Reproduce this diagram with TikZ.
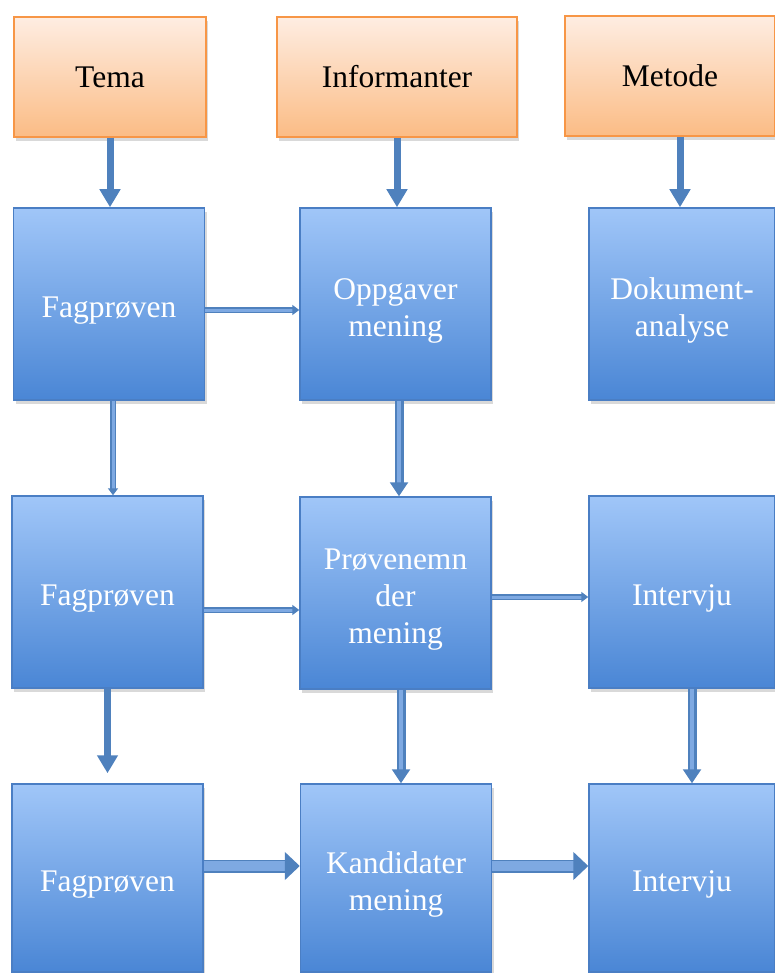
\documentclass[tikz,border=0pt]{standalone}
\usepackage{fontspec}
\setmainfont{Liberation Serif}
\usetikzlibrary{arrows.meta, shadows}
\definecolor{orangeedge}{HTML}{F79646}
\definecolor{orangetop} {HTML}{FEEDE2}
\definecolor{orangebot} {HTML}{FBBC85}
\definecolor{blueedge}  {HTML}{4A7EC4}
\definecolor{bluetop}   {HTML}{A0C6F8}
\definecolor{bluebot}   {HTML}{4A86D5}
\definecolor{arrowblue} {HTML}{4F81BD}
\definecolor{arrowlight}{HTML}{7EA9E2}
% strut on a first line: drops the text a little below the middle, as in the original
\newcommand{\dropline}{\rule{0pt}{34pt}}

\begin{document}
\begin{tikzpicture}[x=1pt, y=-1pt,
  % pixel grid of the original: y runs downwards
  topbox/.style={draw=orangeedge, line width=1.5pt, top color=orangetop, bottom color=orangebot,
                 minimum height=120pt, inner sep=0pt, text=black,
                 font=\fontsize{31.5}{37}\selectfont,
                 drop shadow={shadow xshift=2pt, shadow yshift=-4pt, opacity=0.3}},
  stepbox/.style={draw=blueedge, line width=1.5pt, top color=bluetop, bottom color=bluebot,
                  minimum width=191pt, minimum height=192pt, inner sep=0pt, text=white,
                  align=center, font=\fontsize{31.5}{37}\selectfont,
                  drop shadow={shadow xshift=2pt, shadow yshift=-4pt, opacity=0.3}},
  solidarrow/.style={-{Triangle[width=20pt, length=18pt]}, line width=7pt, draw=arrowblue},
  thinarrow/.style={-{Triangle[width=10pt, length=7pt]}, draw=arrowblue, double=arrowlight,
                    double distance=3pt, line width=1.5pt},
  medarrow/.style={-{Triangle[width=18pt, length=14pt]}, draw=arrowblue, double=arrowlight,
                   double distance=4pt, line width=2.5pt},
  bigarrow/.style={-{Triangle[width=28pt, length=15pt]}, draw=arrowblue, double=arrowlight,
                   double distance=10pt, line width=1.5pt}
]
\useasboundingbox (0,0) rectangle (774,973);

% --- Top row ---
\node[topbox, minimum width=192pt] (tema)    at (110,77) {Tema};
\node[topbox, minimum width=240pt] (info)    at (397,77) {Informanter};
\node[topbox, minimum width=210pt] (metode)  at (670,76) {Metode};

% --- Second row ---
\node[stepbox] (fag1) at (109,304)   {\dropline Fagprøven};
\node[stepbox] (opp)  at (395.5,304) {\dropline Oppgaver\\mening};
\node[stepbox, minimum width=186pt] (dok) at (682,304) {\dropline Dokument-\\analyse};

% --- Third row ---
\node[stepbox] (fag2)  at (107.5,592) {\dropline Fagprøven};
\node[stepbox] (prov)  at (395.5,593) {\dropline Prøvenemn\\der\\mening};
\node[stepbox, minimum width=186pt] (int1) at (682,592) {\dropline Intervju};

% --- Bottom row ---
\node[stepbox, minimum height=188pt] (fag3) at (107.5,878) {\dropline Fagprøven};
\node[stepbox, minimum height=188pt] (kand) at (396,878)   {\dropline Kandidater\\mening};
\node[stepbox, minimum height=188pt, minimum width=186pt] (int2) at (682,878) {\dropline Intervju};

% --- Down from the top row ---
\draw[solidarrow] (tema.south) -- (tema.south |- fag1.north);
\draw[solidarrow] (info.south) -- (info.south |- opp.north);
\draw[solidarrow] ([xshift=-2pt]dok.north |- metode.south) -- ([xshift=-2pt]dok.north);

% --- Across ---
\draw[thinarrow] ([yshift=-6pt]fag1.east) -- ([yshift=-6pt]fag1.east -| opp.west);
\draw[thinarrow] ([yshift=-18pt]fag2.east) -- ([yshift=-18pt]fag2.east -| prov.west);
\draw[thinarrow] ([yshift=-4pt]prov.east) -- ([yshift=-4pt]prov.east -| int1.west);
\draw[bigarrow] ([yshift=12pt]fag3.east) -- ([yshift=12pt]fag3.east -| kand.west);
\draw[bigarrow] ([yshift=12pt]kand.east) -- ([yshift=12pt]kand.east -| int2.west);

% --- Down ---
\draw[thinarrow] ([xshift=4pt]fag1.south) -- ([xshift=4pt]fag1.south |- fag2.north);
\draw[medarrow] ([xshift=3.5pt]opp.south) -- ([xshift=3.5pt]opp.south |- prov.north);
\draw[solidarrow] (fag2.south) -- ([yshift=10pt]fag2.south |- fag3.north);
\draw[medarrow] ([xshift=5.5pt]prov.south) -- ([xshift=5.5pt]prov.south |- kand.north);
\draw[medarrow] ([xshift=10pt]int1.south) -- ([xshift=10pt]int1.south |- int2.north);

\end{tikzpicture}
\end{document}
